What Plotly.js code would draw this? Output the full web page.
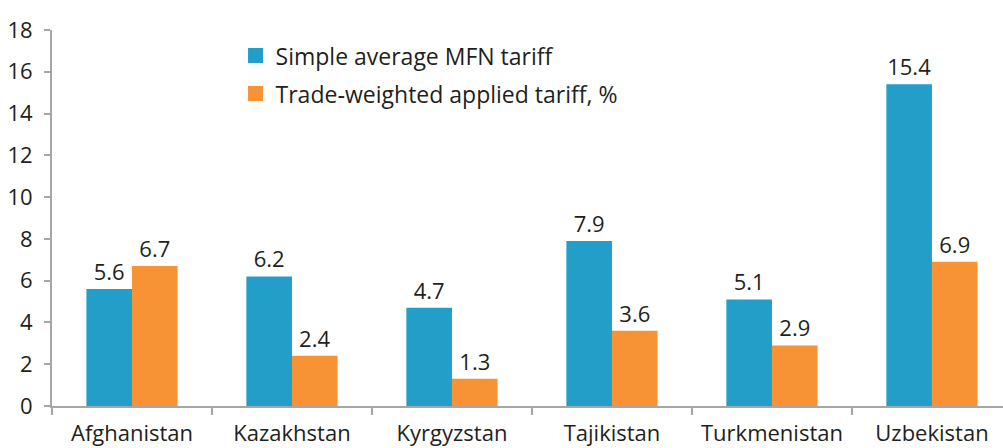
<!DOCTYPE html>
<html>
<head>
<meta charset="utf-8">
<script src="https://cdn.plot.ly/plotly-3.0.1.min.js"></script>
<style>
html,body{margin:0;padding:0;overflow:hidden;background:#fff;}
#chart{width:1003px;height:448px;}
</style>
</head>
<body>
<div id="chart"></div>
<script>
var countries = ["Afghanistan","Kazakhstan","Kyrgyzstan","Tajikistan","Turkmenistan","Uzbekistan"];
var simpleMFN = [5.6, 6.2, 4.7, 7.9, 5.1, 15.4];
var tradeWeighted = [6.7, 2.4, 1.3, 3.6, 2.9, 6.9];
var seriesNames = ["Simple average MFN tariff", "Trade\u2011weighted applied tariff, %"];
var seriesColors = ["#229ec8", "#f89335"];
var yTicks = [0,2,4,6,8,10,12,14,16,18];

var FONT = "'Open Sans', 'Segoe UI', sans-serif";
var TXT = "#231f20";

function barTrace(vals, i) {
  return {
    type: "bar", x: countries, y: vals, name: seriesNames[i],
    marker: {color: seriesColors[i]},
    text: vals.map(function(v){return v.toFixed(1);}),
    textposition: "outside", cliponaxis: false, constraintext: "none",
    textfont: {family: FONT, size: 22, color: TXT},
    showlegend: false
  };
}
function legendTrace(i, lg) {
  return {
    type: "scatter", mode: "markers", x: [countries[0]], y: [null],
    name: seriesNames[i],
    marker: {symbol: "square", size: 15, color: seriesColors[i]},
    showlegend: true, legend: lg, hoverinfo: "skip"
  };
}

var traces = [
  barTrace(simpleMFN, 0),
  barTrace(tradeWeighted, 1),
  legendTrace(0, "legend"),
  legendTrace(1, "legend2")
];

var layout = {
  width: 1003, height: 448,
  margin: {l: 52, r: 0, t: 30, b: 42, pad: 0, autoexpand: false},
  paper_bgcolor: "#fff", plot_bgcolor: "#fff",
  font: {family: FONT, size: 20, color: TXT},
  barmode: "group", bargap: 0.43, bargroupgap: 0,
  xaxis: {
    type: "category",
    range: [-0.5, 5.444],
    showline: true, linecolor: "#a6a6a6", linewidth: 2,
    ticks: "outside", tickson: "boundaries", ticklen: 7, tickcolor: "#a6a6a6", tickwidth: 2,
    tickangle: 0, automargin: false, ticklabelstandoff: 7,
    tickfont: {family: FONT, size: 22, color: TXT},
    showgrid: false, zeroline: false, fixedrange: true
  },
  yaxis: {
    range: [0, 18],
    tickvals: yTicks, ticktext: yTicks.map(String),
    showline: true, linecolor: "#a6a6a6", linewidth: 2,
    ticks: "outside", ticklen: 6, tickcolor: "#a6a6a6", tickwidth: 2,
    ticklabelstandoff: 7, automargin: false,
    tickfont: {family: FONT, size: 22, color: TXT},
    showgrid: false, zeroline: false, fixedrange: true
  },
  showlegend: true,
  legend: {
    x: 0.193, y: 0.989, xanchor: "left", yanchor: "top",
    bgcolor: "rgba(0,0,0,0)", borderwidth: 0,
    font: {family: FONT, size: 23, color: TXT}
  },
  legend2: {
    x: 0.193, y: 0.888, xanchor: "left", yanchor: "top",
    bgcolor: "rgba(0,0,0,0)", borderwidth: 0,
    font: {family: FONT, size: 23, color: TXT}
  }
};

Plotly.newPlot("chart", traces, layout, {displayModeBar: false, staticPlot: true});
</script>
</body>
</html>
